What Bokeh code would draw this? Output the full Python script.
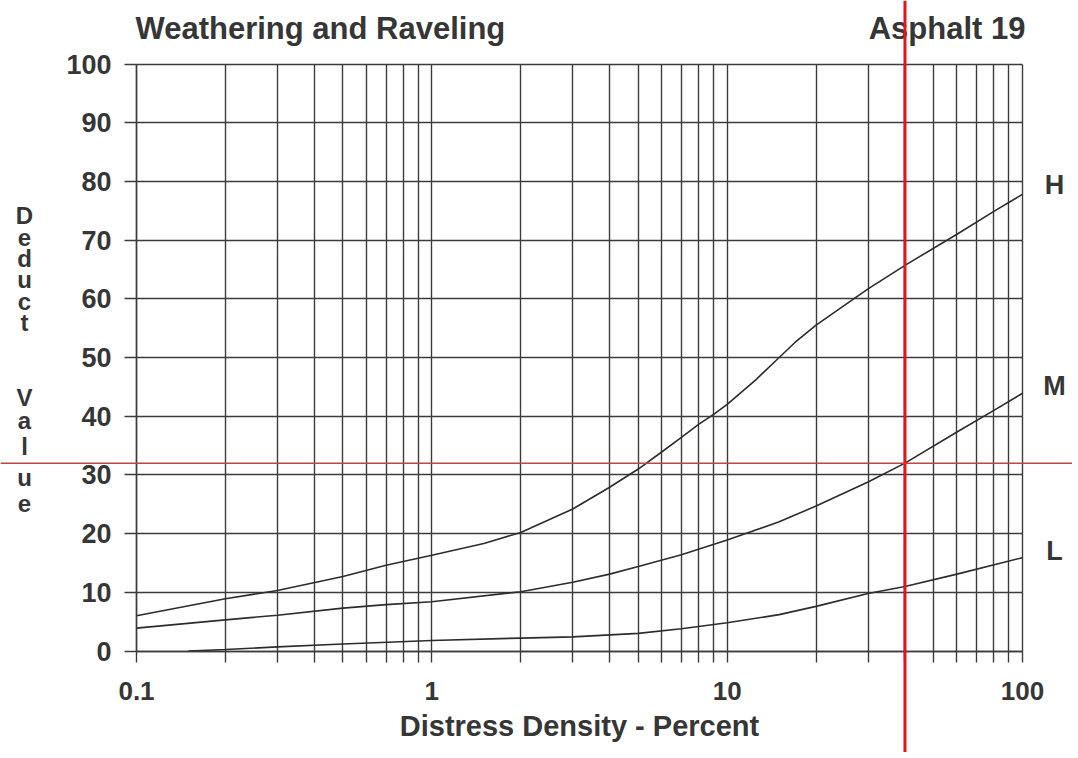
from bokeh.plotting import figure
from bokeh.models import Range1d, FixedTicker, Label, Span, CustomJSTickFormatter
from bokeh.embed import file_html
from bokeh.resources import INLINE

# ---- data ----
x_major = [0.1, 1, 10, 100]
x_minor = [0.2, 0.3, 0.4, 0.5, 0.6, 0.7, 0.8, 0.9,
           2, 3, 4, 5, 6, 7, 8, 9,
           20, 30, 40, 50, 60, 70, 80, 90]
y_ticks = [0, 10, 20, 30, 40, 50, 60, 70, 80, 90, 100]

h_x = [0.1, 0.2, 0.3, 0.5, 0.7, 1, 1.5, 2, 3, 4, 5, 6, 7, 8, 9, 10, 12.5, 15, 17, 20, 30, 40, 60, 80, 100]
h_y = [6.0, 8.9, 10.3, 12.7, 14.6, 16.3, 18.3, 20.2, 24.2, 27.9, 31.0, 33.9, 36.4, 38.6, 40.3, 42.0, 46.2, 50.0, 52.6, 55.5, 61.7, 65.7, 71.0, 74.9, 77.8]

m_x = [0.1, 0.2, 0.3, 0.5, 0.7, 1, 2, 3, 4, 5, 7, 10, 15, 20, 30, 40, 60, 80, 100]
m_y = [3.9, 5.3, 6.1, 7.3, 7.9, 8.4, 10.1, 11.7, 13.1, 14.4, 16.4, 18.9, 22.0, 24.7, 28.8, 32.0, 37.3, 41.0, 43.9]

l_x = [0.15, 0.2, 0.3, 0.5, 1, 2, 3, 5, 7, 10, 15, 20, 30, 40, 60, 100]
l_y = [0.0, 0.25, 0.7, 1.2, 1.8, 2.2, 2.4, 3.0, 3.8, 4.8, 6.2, 7.6, 9.8, 11.0, 13.1, 15.9]

curve_labels = ["H", "M", "L"]
curve_label_y = [79.4, 45.2, 17.1]   # label centres, in deduct-value units

red_x = 40
red_y = 32

title_left = "Weathering and Raveling"
title_right = "Asphalt 19"
x_title = "Distress Density - Percent"
y_title_1 = "Deduct"
y_title_2 = "Value"

# ---- layout / styling ----
W, H = 1072, 752
X0, X1 = 136.0, 1022.0      # pixel columns of 0.1 and 100
Y0, Y100 = 650.5, 63.5      # pixel rows of 0 and 100
dec = (X1 - X0) / 3.0
unit = (Y0 - Y100) / 100.0

INK = "#363636"
GRID = "#3c3c3c"
FONT = "Liberation Sans"

x_range = Range1d(10 ** (-1 - X0 / dec), 10 ** (-1 + (W - X0) / dec))
y_range = Range1d(-(H - Y0) / unit, Y0 / unit)

p = figure(width=W, height=H, x_axis_type="log",
           x_range=x_range, y_range=y_range,
           output_backend="svg", toolbar_location=None, min_border=0)
p.title.visible = False
p.outline_line_color = None
p.background_fill_color = "white"
p.border_fill_color = "white"

xt = FixedTicker(ticks=x_major, minor_ticks=x_minor)
yt = FixedTicker(ticks=y_ticks)

xa = p.xaxis[0]
xa.fixed_location = 0
xa.bounds = (0.1, 100)
xa.ticker = xt
xa.formatter = CustomJSTickFormatter(code="return tick.toString();")
xa.major_tick_out = 11
xa.major_tick_in = 0
xa.minor_tick_out = 11
xa.minor_tick_in = 0
xa.major_tick_line_color = GRID
xa.minor_tick_line_color = GRID
xa.major_tick_line_width = 1.4
xa.minor_tick_line_width = 1.4
xa.axis_line_color = GRID
xa.axis_line_width = 1.4
xa.major_label_standoff = 20
xa.major_label_text_font = FONT
xa.major_label_text_font_style = "bold"
xa.major_label_text_font_size = "26px"
xa.major_label_text_color = INK

ya = p.yaxis[0]
ya.fixed_location = 0.1
ya.bounds = (0, 100)
ya.ticker = yt
ya.major_tick_out = 12
ya.major_tick_in = 0
ya.minor_tick_line_color = None
ya.major_tick_line_color = GRID
ya.major_tick_line_width = 1.4
ya.axis_line_color = GRID
ya.axis_line_width = 1.4
ya.major_label_standoff = 13
ya.major_label_text_font = FONT
ya.major_label_text_font_style = "bold"
ya.major_label_text_font_size = "27px"
ya.major_label_text_color = INK

xg = p.xgrid[0]
xg.ticker = xt
xg.bounds = (0.1, 100)
xg.cross_bounds = (0, 100)
xg.grid_line_color = GRID
xg.grid_line_width = 1.4
xg.minor_grid_line_color = GRID
xg.minor_grid_line_width = 1.4

yg = p.ygrid[0]
yg.ticker = yt
yg.bounds = (0, 100)
yg.cross_bounds = (0.1, 100)
yg.grid_line_color = GRID
yg.grid_line_width = 1.4

for xs, ys in [(h_x, h_y), (m_x, m_y), (l_x, l_y)]:
    p.line(xs, ys, line_color="#2c2c2c", line_width=1.6)

def lab(**kw):
    base = dict(text_font=FONT, text_font_style="bold", text_color=INK,
                text_baseline="middle")
    base.update(kw)
    p.add_layout(Label(**base))

# curve labels at right
for txt, yv in zip(curve_labels, curve_label_y):
    lab(x=100, y=yv, x_offset=32, text=txt, text_align="center", text_font_size="27px")

# titles (centre rows in pixels above the 100 line)
lab(x=0.1, y=100, y_offset=36, x_offset=-1, text=title_left, text_align="left",
    text_font_size="31px")
lab(x=100, y=100, y_offset=36, x_offset=3, text=title_right, text_align="right",
    text_font_size="31px")

# x axis title, centred on the log axis
lab(x=(0.1 * 100) ** 0.5, y=0, y_offset=-75, text=x_title, text_align="center",
    text_font_size="29px")

# stacked y title letters (pixel rows below the 100 line)
rows_1 = [151.5, 173.5, 194.5, 215.5, 237, 258]
rows_2 = [333.5, 356.5, 382.5, 413.5, 439.5]
for word, rows in [(y_title_1, rows_1), (y_title_2, rows_2)]:
    for ch, r in zip(word, rows):
        lab(x=0.1, y=100, x_offset=-112, y_offset=-r,
            text=ch, text_align="center", text_font_size="24px")

# red reference lines
p.add_layout(Span(location=red_x, dimension="height", line_color="#e3141b",
                  line_width=3, level="overlay"))
p.add_layout(Span(location=red_y, dimension="width", line_color="#e8333a",
                  line_width=1.5, level="overlay"))

open("out.html", "w").write(file_html(p, INLINE))
